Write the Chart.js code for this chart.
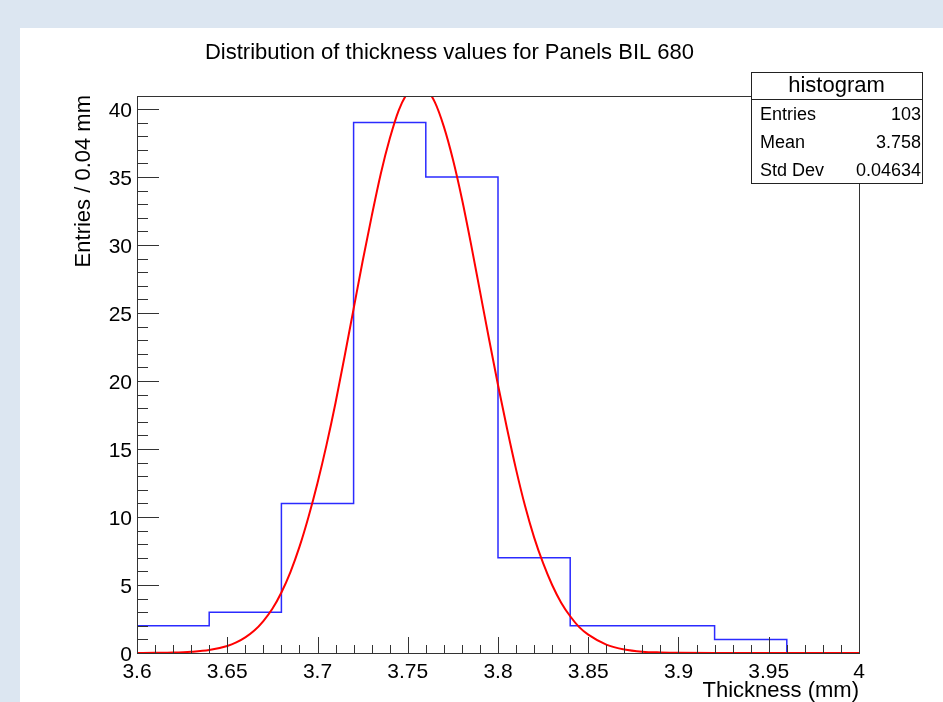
<!DOCTYPE html>
<html lang="en">
<head>
<meta charset="UTF-8" />
<title>Distribution of thickness values</title>
<script src="https://cdn.jsdelivr.net/npm/chart.js"></script>
<style>
    html, body {
        margin: 0;
        padding: 0;
        background: #dce6f1;
        overflow: hidden;
    }
    .pad {
        position: absolute;
        left: 20px;
        top: 28px;
        width: 923px;
        height: 674px;
        background: #ffffff;
    }
    #histChart {
        position: absolute;
        left: 0;
        top: 0;
    }
</style>
</head>
<body>
<div class="pad"></div>
<canvas id="histChart" width="943" height="702"></canvas>

<script>
// histogram: bin edges (mm) and counts per bin
const binEdges = [3.60, 3.64, 3.68, 3.72, 3.76, 3.80, 3.84, 3.88, 3.92, 3.96, 4.00];
const binCounts = [2, 3, 11, 39, 35, 7, 2, 2, 1, 0];

// gaussian fit curve
const fitX = [3.600, 3.610, 3.620, 3.630, 3.640, 3.650, 3.655, 3.660, 3.665, 3.670,
              3.675, 3.680, 3.685, 3.690, 3.695, 3.700, 3.705, 3.710, 3.715, 3.720,
              3.725, 3.730, 3.735, 3.740, 3.745, 3.750, 3.755, 3.760, 3.765, 3.770,
              3.775, 3.780, 3.785, 3.790, 3.795, 3.800, 3.805, 3.810, 3.815, 3.820,
              3.825, 3.830, 3.835, 3.840, 3.845, 3.850, 3.860, 3.870, 3.880, 3.890,
              3.900, 3.920, 3.950, 4.000];
const fitY = [0.00, 0.01, 0.03, 0.09, 0.22, 0.52, 0.78, 1.15, 1.65, 2.35,
              3.25, 4.45, 5.95, 7.8, 10.0, 12.5, 15.3, 18.4, 21.8, 25.3,
              28.8, 32.1, 35.2, 37.8, 39.9, 41.2, 41.8, 41.5, 40.5, 38.7,
              36.3, 33.4, 30.1, 26.6, 23.1, 19.7, 16.5, 13.5, 10.8, 8.5,
              6.6, 5.0, 3.7, 2.7, 1.9, 1.35, 0.62, 0.26, 0.10, 0.04,
              0.01, 0.00, 0.00, 0.00];

// axis labels
const xTickLabels = ["3.6", "3.65", "3.7", "3.75", "3.8", "3.85", "3.9", "3.95", "4"];
const yTickLabels = ["0", "5", "10", "15", "20", "25", "30", "35", "40"];

const statsNames = ["Entries", "Mean", "Std Dev"];
const statsValues = ["103", "3.758", "0.04634"];

const FONT = '"Liberation Sans", Arial, Helvetica, sans-serif';

// histogram as step points: each edge carries the count of the bin that starts there
const histPoints = binEdges.map((x, i) => ({
    x: x,
    y: i < binCounts.length ? binCounts[i] : binCounts[binCounts.length - 1],
}));
const fitPoints = fitX.map((x, i) => ({ x: x, y: fitY[i] }));

const rootAxes = {
    id: "rootAxes",
    afterDatasetsDraw(chart) {
        const ctx = chart.ctx;
        const area = chart.chartArea;
        const xs = chart.scales.x;
        const ys = chart.scales.y;

        ctx.save();
        ctx.strokeStyle = "#333";
        ctx.lineWidth = 1;

        // frame
        ctx.strokeRect(area.left + 0.5, area.top + 0.5,
            area.right - area.left, area.bottom - area.top);

        // y ticks, major every 5, minor every 1
        ctx.beginPath();
        for (let v = 0; v <= 40; v++) {
            const py = Math.round(ys.getPixelForValue(v)) + 0.5;
            const len = v % 5 === 0 ? 22 : 11;
            ctx.moveTo(area.left, py);
            ctx.lineTo(area.left + len, py);
        }
        // x ticks, major every 0.05, minor every 0.01
        for (let k = 0; k <= 40; k++) {
            const px = Math.round(xs.getPixelForValue(3.6 + k * 0.01)) + 0.5;
            const len = k % 5 === 0 ? 16 : 8;
            ctx.moveTo(px, area.bottom);
            ctx.lineTo(px, area.bottom - len);
        }
        ctx.stroke();

        // tick labels
        ctx.fillStyle = "#000";
        ctx.font = "21px " + FONT;
        ctx.textBaseline = "alphabetic";
        ctx.textAlign = "right";
        yTickLabels.forEach((t) => {
            const py = ys.getPixelForValue(Number(t));
            ctx.fillText(t, area.left - 5, py + 8);
        });
        ctx.textAlign = "center";
        xTickLabels.forEach((t) => {
            const px = xs.getPixelForValue(Number(t));
            ctx.fillText(t, px, area.bottom + 25);
        });

        // title
        ctx.font = "22px " + FONT;
        ctx.textAlign = "center";
        ctx.fillText("Distribution of thickness values for Panels BIL 680", 449.5, 59);

        // x axis title
        ctx.font = "22px " + FONT;
        ctx.textAlign = "right";
        ctx.fillText("Thickness (mm)", area.right, 697);

        // y axis title
        ctx.save();
        ctx.translate(89.5, area.top - 1);
        ctx.rotate(-Math.PI / 2);
        ctx.textAlign = "right";
        ctx.fillText("Entries / 0.04 mm", 0, 0);
        ctx.restore();

        // stats box
        const bx = 751, by = 72, bw = 171, bh = 111;
        ctx.fillStyle = "#fff";
        ctx.fillRect(bx, by, bw, bh);
        ctx.strokeStyle = "#222";
        ctx.strokeRect(bx + 0.5, by + 0.5, bw, bh);
        ctx.beginPath();
        ctx.moveTo(bx, 99.5);
        ctx.lineTo(bx + bw, 99.5);
        ctx.stroke();

        ctx.fillStyle = "#000";
        ctx.font = "22px " + FONT;
        ctx.textAlign = "center";
        ctx.fillText("histogram", bx + bw / 2, 92);

        ctx.font = "18px " + FONT;
        statsNames.forEach((name, i) => {
            const base = 119.5 + i * 28;
            ctx.textAlign = "left";
            ctx.fillText(name, bx + 9, base);
            ctx.textAlign = "right";
            ctx.fillText(statsValues[i], bx + bw - 1, base);
        });

        ctx.restore();
    },
};

new Chart(document.getElementById("histChart"), {
    type: "line",
    data: {
        datasets: [
            {
                label: "fit",
                data: fitPoints,
                borderColor: "#ff0000",
                borderWidth: 2,
                pointRadius: 0,
                cubicInterpolationMode: "monotone",
                fill: false,
                clip: 0,
                order: 0,
            },
            {
                label: "histogram",
                data: histPoints,
                borderColor: "#2b2bff",
                borderWidth: 1.5,
                pointRadius: 0,
                stepped: "before",
                fill: false,
                clip: 0,
                order: 1,
            },
        ],
    },
    options: {
        responsive: false,
        animation: false,
        devicePixelRatio: 1,
        layout: {
            padding: { left: 137, right: 84, top: 96, bottom: 49 },
        },
        plugins: {
            legend: { display: false },
            tooltip: { enabled: false },
        },
        scales: {
            x: { type: "linear", min: 3.6, max: 4.0, display: false },
            y: { type: "linear", min: 0, max: 40.95, display: false },
        },
    },
    plugins: [rootAxes],
});
</script>
</body>
</html>
